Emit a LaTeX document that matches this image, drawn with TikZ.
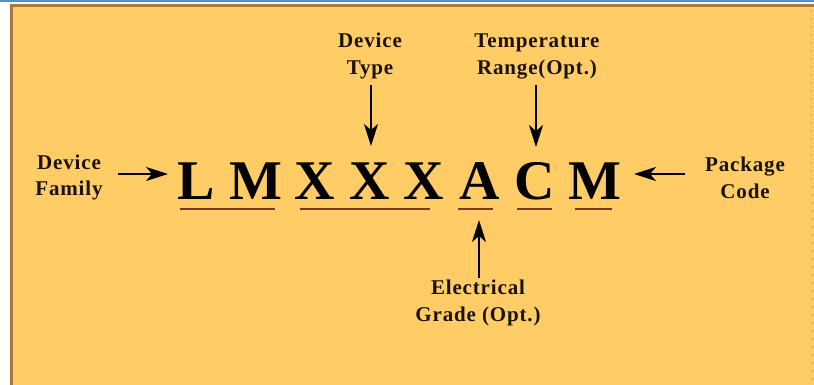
\documentclass[tikz,border=0pt]{standalone}
\usepackage{fontspec}
\setmainfont{Liberation Serif}
\newfontfamily\lblfont{Liberation Serif}[LetterSpace=4]
\usetikzlibrary{arrows.meta}
\definecolor{bgorange}{HTML}{FFCC66}
\definecolor{framebrown}{HTML}{A8773F}
\definecolor{topblue}{HTML}{4B95CC}
\definecolor{ulbrown}{HTML}{7A3A20}
\definecolor{inkdark}{HTML}{1A1205}
\tikzset{
  lbl/.style={font=\lblfont\bfseries\fontsize{21}{27}\selectfont, text=inkdark, align=center, inner sep=0pt, anchor=base},
  big/.style={font=\bfseries\fontsize{56}{60}\selectfont, text=black, inner sep=0pt, anchor=base},
  uline/.style={draw=ulbrown, line width=2.5pt},
  arr/.style={draw=black, line width=2pt, -{Stealth[length=22pt,width=14pt,inset=6pt]}}
}
\begin{document}
\begin{tikzpicture}[x=1pt,y=-1pt]
\useasboundingbox (0,0) rectangle (814,385);
% background and frame
\fill[white] (0,0) rectangle (814,385);
\fill[topblue] (0,0) rectangle (814,2.5);
\fill[bgorange] (10,4) rectangle (814,385);
\fill[framebrown] (10,4) rectangle (814,7);
\fill[framebrown] (10,4) rectangle (13,385);
\draw[framebrown!70, line width=1pt, dash pattern=on 2pt off 6pt] (811.5,10) -- (811.5,385);
% big letters
\node[big] (L)  at (196,200) {L};
\node[big] (M1) at (256,200) {M};
\node[big] (X1) at (315,200) {X};
\node[big] (X2) at (370,200) {X};
\node[big] (X3) at (424,200) {X};
\node[big] (A)  at (480,200) {A};
\node[big] (C)  at (535,200) {C};
\node[big] (M2) at (595,200) {M};
% underlines
\draw[uline] (180,209) -- (275,209);
\draw[uline] (300,209) -- (430,209);
\draw[uline] (458,209) -- (493,209);
\draw[uline] (517,209) -- (552,209);
\draw[uline] (575,209) -- (612,209);
% labels (base anchor = baseline of the last line)
\node[lbl] (dtype) at (370,75) {Device\\Type};
\node[lbl] (temp)  at (537,75) {Temperature\\Range(Opt.)};
\node[lbl] (dfam)  at (69,196) {Device\\Family};
\node[lbl] (pkg)   at (745,198) {Package\\Code};
\node[lbl] (egr)   at (478,321) {Electrical\\Grade (Opt.)};
% arrow end points
\coordinate (dtypeS) at (371,85);
\coordinate (dtypeT) at (371,146);
\coordinate (tempS) at (536,85);
\coordinate (tempT) at (536,147);
\coordinate (dfamS) at (118,174);
\coordinate (dfamT) at (168,174);
\coordinate (pkgS) at (685,174);
\coordinate (pkgT) at (634,174);
\coordinate (egrS) at (479,278);
\coordinate (egrT) at (479,220);
\draw[arr] (dtypeS) -- (dtypeT);
\draw[arr] (tempS) -- (tempT);
\draw[arr] (dfamS) -- (dfamT);
\draw[arr] (pkgS) -- (pkgT);
\draw[arr] (egrS) -- (egrT);
\end{tikzpicture}
\end{document}
